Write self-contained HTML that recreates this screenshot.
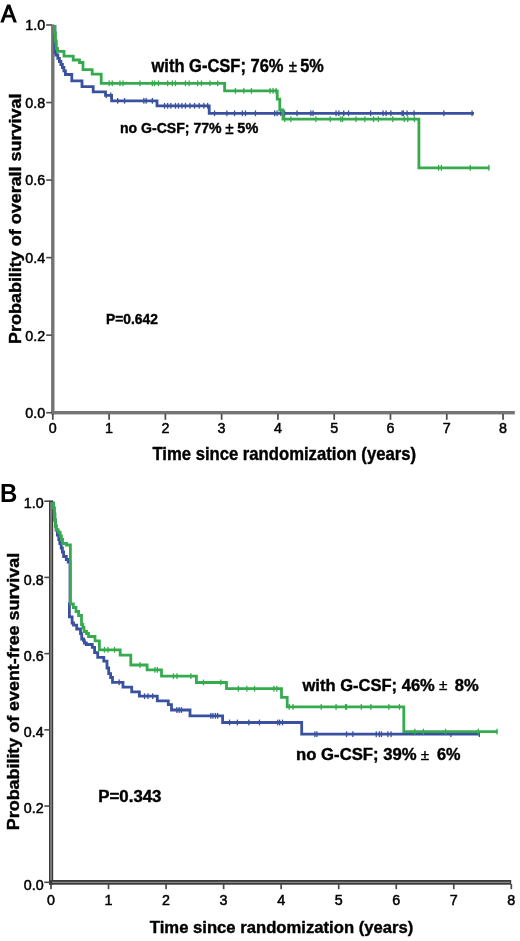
<!DOCTYPE html>
<html><head><meta charset="utf-8"><style>
html,body{margin:0;padding:0;background:#fff;width:520px;height:941px;overflow:hidden}
svg{display:block;filter:blur(0.35px)}
text{font-family:"Liberation Sans",sans-serif;fill:#000;white-space:pre}
.tl{font-size:14.3px;font-weight:normal;stroke:#000;stroke-width:0.5px}
.lb{font-weight:bold;stroke:#000;stroke-width:0.4px}
.pl{font-size:24.5px;font-weight:bold}
.pm{font-weight:normal}
</style></head><body>
<svg xml:space="preserve" width="520" height="941" viewBox="0 0 520 941">
<rect x="51.1" y="24.4" width="3.4" height="390" fill="#747474"/><rect x="51.1" y="411.0" width="463.7" height="3.4" fill="#747474"/><rect x="46.2" y="24.20" width="5.6" height="1.6" fill="#4a4a4a"/><text x="45.2" y="30.3" text-anchor="end" class="tl">1.0</text><rect x="46.2" y="101.74" width="5.6" height="1.6" fill="#4a4a4a"/><text x="45.2" y="107.8" text-anchor="end" class="tl">0.8</text><rect x="46.2" y="179.28" width="5.6" height="1.6" fill="#4a4a4a"/><text x="45.2" y="185.4" text-anchor="end" class="tl">0.6</text><rect x="46.2" y="256.82" width="5.6" height="1.6" fill="#4a4a4a"/><text x="45.2" y="262.9" text-anchor="end" class="tl">0.4</text><rect x="46.2" y="334.36" width="5.6" height="1.6" fill="#4a4a4a"/><text x="45.2" y="340.5" text-anchor="end" class="tl">0.2</text><rect x="46.2" y="411.90" width="5.6" height="1.6" fill="#4a4a4a"/><text x="45.2" y="418.0" text-anchor="end" class="tl">0.0</text><rect x="51.95" y="414" width="1.7" height="5.8" fill="#4a4a4a"/><text x="52.8" y="433.4" text-anchor="middle" class="tl">0</text><rect x="108.23" y="414" width="1.7" height="5.8" fill="#4a4a4a"/><text x="109.1" y="433.4" text-anchor="middle" class="tl">1</text><rect x="164.51" y="414" width="1.7" height="5.8" fill="#4a4a4a"/><text x="165.4" y="433.4" text-anchor="middle" class="tl">2</text><rect x="220.79" y="414" width="1.7" height="5.8" fill="#4a4a4a"/><text x="221.6" y="433.4" text-anchor="middle" class="tl">3</text><rect x="277.07" y="414" width="1.7" height="5.8" fill="#4a4a4a"/><text x="277.9" y="433.4" text-anchor="middle" class="tl">4</text><rect x="333.35" y="414" width="1.7" height="5.8" fill="#4a4a4a"/><text x="334.2" y="433.4" text-anchor="middle" class="tl">5</text><rect x="389.63" y="414" width="1.7" height="5.8" fill="#4a4a4a"/><text x="390.5" y="433.4" text-anchor="middle" class="tl">6</text><rect x="445.91" y="414" width="1.7" height="5.8" fill="#4a4a4a"/><text x="446.8" y="433.4" text-anchor="middle" class="tl">7</text><rect x="502.19" y="414" width="1.7" height="5.8" fill="#4a4a4a"/><text x="503.0" y="433.4" text-anchor="middle" class="tl">8</text><path d="M55.0 25 V52.8 H56 V55 H57.8 V58.3 H59.4 V61.5 H60.9 V64.5 H62.4 V67.5 H63.9 V70.8 H65.4 V74.5 H71.8 V80.8 H82 V86.7 H93.2 V91.8 H105.5 V95.3 H111.6 V100.8 H157 V105.8 H209.2 V113.3 H474" fill="none" stroke="#3a519f" stroke-width="2.8"/><rect x="105.5" y="92.4" width="1.3" height="5.8" fill="#3a519f"/><rect x="110.1" y="92.4" width="1.3" height="5.8" fill="#3a519f"/><rect x="117.0" y="97.9" width="1.3" height="5.8" fill="#3a519f"/><rect x="123.9" y="97.9" width="1.3" height="5.8" fill="#3a519f"/><rect x="143.2" y="97.9" width="1.3" height="5.8" fill="#3a519f"/><rect x="145.5" y="97.9" width="1.3" height="5.8" fill="#3a519f"/><rect x="151.7" y="97.9" width="1.3" height="5.8" fill="#3a519f"/><rect x="163.9" y="102.9" width="1.3" height="5.8" fill="#3a519f"/><rect x="167.0" y="102.9" width="1.3" height="5.8" fill="#3a519f"/><rect x="170.2" y="102.9" width="1.3" height="5.8" fill="#3a519f"/><rect x="174.8" y="102.9" width="1.3" height="5.8" fill="#3a519f"/><rect x="177.8" y="102.9" width="1.3" height="5.8" fill="#3a519f"/><rect x="181.3" y="102.9" width="1.3" height="5.8" fill="#3a519f"/><rect x="184.8" y="102.9" width="1.3" height="5.8" fill="#3a519f"/><rect x="189.3" y="102.9" width="1.3" height="5.8" fill="#3a519f"/><rect x="193.9" y="102.9" width="1.3" height="5.8" fill="#3a519f"/><rect x="198.5" y="102.9" width="1.3" height="5.8" fill="#3a519f"/><rect x="203.2" y="102.9" width="1.3" height="5.8" fill="#3a519f"/><rect x="207.0" y="102.9" width="1.3" height="5.8" fill="#3a519f"/><rect x="213.9" y="110.4" width="1.3" height="5.8" fill="#3a519f"/><rect x="226.2" y="110.4" width="1.3" height="5.8" fill="#3a519f"/><rect x="233.9" y="110.4" width="1.3" height="5.8" fill="#3a519f"/><rect x="241.7" y="110.4" width="1.3" height="5.8" fill="#3a519f"/><rect x="244.8" y="110.4" width="1.3" height="5.8" fill="#3a519f"/><rect x="254.8" y="110.4" width="1.3" height="5.8" fill="#3a519f"/><rect x="274.0" y="110.4" width="1.3" height="5.8" fill="#3a519f"/><rect x="276.4" y="110.4" width="1.3" height="5.8" fill="#3a519f"/><rect x="280.2" y="110.4" width="1.3" height="5.8" fill="#3a519f"/><rect x="284.0" y="110.4" width="1.3" height="5.8" fill="#3a519f"/><rect x="296.4" y="110.4" width="1.3" height="5.8" fill="#3a519f"/><rect x="310.2" y="110.4" width="1.3" height="5.8" fill="#3a519f"/><rect x="312.4" y="110.4" width="1.3" height="5.8" fill="#3a519f"/><rect x="335.4" y="110.4" width="1.3" height="5.8" fill="#3a519f"/><rect x="338.2" y="110.4" width="1.3" height="5.8" fill="#3a519f"/><rect x="343.1" y="110.4" width="1.3" height="5.8" fill="#3a519f"/><rect x="347.9" y="110.4" width="1.3" height="5.8" fill="#3a519f"/><rect x="370.0" y="110.4" width="1.3" height="5.8" fill="#3a519f"/><rect x="382.4" y="110.4" width="1.3" height="5.8" fill="#3a519f"/><rect x="385.4" y="110.4" width="1.3" height="5.8" fill="#3a519f"/><rect x="390.2" y="110.4" width="1.3" height="5.8" fill="#3a519f"/><rect x="402.7" y="110.4" width="1.3" height="5.8" fill="#3a519f"/><rect x="406.4" y="110.4" width="1.3" height="5.8" fill="#3a519f"/><rect x="401.4" y="110.4" width="1.3" height="5.8" fill="#3a519f"/><rect x="413.4" y="110.4" width="1.3" height="5.8" fill="#3a519f"/><rect x="443.2" y="110.4" width="1.3" height="5.8" fill="#3a519f"/><rect x="471.4" y="110.4" width="1.3" height="5.8" fill="#3a519f"/><path d="M54.6 25 V33 H55.4 V41 H56.3 V48.5 H57.5 V51.3 H64 V56.1 H73.2 V60 H79.5 V62.5 H83 V69.6 H92.2 V74.2 H101.2 V83.3 H224.6 V90.8 H277.2 V99.2 H279.8 V110 H283 V119.2 H418.9 V167.8 H489.5" fill="none" stroke="#36ab4e" stroke-width="2.8"/><rect x="108.5" y="80.4" width="1.3" height="5.8" fill="#36ab4e"/><rect x="111.6" y="80.4" width="1.3" height="5.8" fill="#36ab4e"/><rect x="119.3" y="80.4" width="1.3" height="5.8" fill="#36ab4e"/><rect x="122.3" y="80.4" width="1.3" height="5.8" fill="#36ab4e"/><rect x="139.3" y="80.4" width="1.3" height="5.8" fill="#36ab4e"/><rect x="151.7" y="80.4" width="1.3" height="5.8" fill="#36ab4e"/><rect x="153.9" y="80.4" width="1.3" height="5.8" fill="#36ab4e"/><rect x="157.8" y="80.4" width="1.3" height="5.8" fill="#36ab4e"/><rect x="167.0" y="80.4" width="1.3" height="5.8" fill="#36ab4e"/><rect x="171.7" y="80.4" width="1.3" height="5.8" fill="#36ab4e"/><rect x="174.8" y="80.4" width="1.3" height="5.8" fill="#36ab4e"/><rect x="184.8" y="80.4" width="1.3" height="5.8" fill="#36ab4e"/><rect x="188.5" y="80.4" width="1.3" height="5.8" fill="#36ab4e"/><rect x="197.0" y="80.4" width="1.3" height="5.8" fill="#36ab4e"/><rect x="200.8" y="80.4" width="1.3" height="5.8" fill="#36ab4e"/><rect x="209.3" y="80.4" width="1.3" height="5.8" fill="#36ab4e"/><rect x="217.0" y="80.4" width="1.3" height="5.8" fill="#36ab4e"/><rect x="234.8" y="87.9" width="1.3" height="5.8" fill="#36ab4e"/><rect x="243.2" y="87.9" width="1.3" height="5.8" fill="#36ab4e"/><rect x="250.8" y="87.9" width="1.3" height="5.8" fill="#36ab4e"/><rect x="269.4" y="87.9" width="1.3" height="5.8" fill="#36ab4e"/><rect x="272.4" y="87.9" width="1.3" height="5.8" fill="#36ab4e"/><rect x="275.4" y="87.9" width="1.3" height="5.8" fill="#36ab4e"/><rect x="284.0" y="116.3" width="1.3" height="5.8" fill="#36ab4e"/><rect x="290.2" y="116.3" width="1.3" height="5.8" fill="#36ab4e"/><rect x="315.2" y="116.3" width="1.3" height="5.8" fill="#36ab4e"/><rect x="329.6" y="116.3" width="1.3" height="5.8" fill="#36ab4e"/><rect x="340.2" y="116.3" width="1.3" height="5.8" fill="#36ab4e"/><rect x="341.9" y="116.3" width="1.3" height="5.8" fill="#36ab4e"/><rect x="355.4" y="116.3" width="1.3" height="5.8" fill="#36ab4e"/><rect x="364.2" y="116.3" width="1.3" height="5.8" fill="#36ab4e"/><rect x="372.9" y="116.3" width="1.3" height="5.8" fill="#36ab4e"/><rect x="377.7" y="116.3" width="1.3" height="5.8" fill="#36ab4e"/><rect x="392.1" y="116.3" width="1.3" height="5.8" fill="#36ab4e"/><rect x="403.6" y="116.3" width="1.3" height="5.8" fill="#36ab4e"/><rect x="407.1" y="116.3" width="1.3" height="5.8" fill="#36ab4e"/><rect x="413.8" y="116.3" width="1.3" height="5.8" fill="#36ab4e"/><rect x="437.9" y="164.9" width="1.3" height="5.8" fill="#36ab4e"/><rect x="440.7" y="164.9" width="1.3" height="5.8" fill="#36ab4e"/><rect x="469.6" y="164.9" width="1.3" height="5.8" fill="#36ab4e"/><rect x="488.2" y="164.9" width="1.3" height="5.8" fill="#36ab4e"/><text x="0.9" y="21.9" class="pl" style="font-weight:normal;font-size:24.6px;stroke:#000;stroke-width:1.1px" textLength="15.2" lengthAdjust="spacingAndGlyphs">A</text><text x="151.50" y="72.30" class="lb" textLength="132.01" lengthAdjust="spacingAndGlyphs" style="font-weight:bold;font-size:17.60px;">with G-CSF; 76%</text><text x="288.75" y="72.30" class="lb" textLength="8.18" lengthAdjust="spacingAndGlyphs" style="font-weight:normal;font-size:16.40px;">±</text><text x="300.21" y="72.30" class="lb" textLength="23.50" lengthAdjust="spacingAndGlyphs" style="font-weight:bold;font-size:17.60px;">5%</text><text x="119.91" y="133.30" class="lb" textLength="101.75" lengthAdjust="spacingAndGlyphs" style="font-weight:bold;font-size:14.90px;">no G-CSF; 77%</text><text x="225.34" y="133.60" class="lb" textLength="8.40" lengthAdjust="spacingAndGlyphs" style="font-weight:normal;font-size:16.40px;">±</text><text x="237.37" y="133.30" class="lb" textLength="20.90" lengthAdjust="spacingAndGlyphs" style="font-weight:bold;font-size:14.90px;">5%</text><text x="106.03" y="323.50" class="lb" textLength="51.87" lengthAdjust="spacingAndGlyphs" style="font-weight:bold;font-size:14.30px;">P=0.642</text><text x="152.43" y="459.60" class="lb" textLength="263.60" lengthAdjust="spacingAndGlyphs" style="font-weight:bold;font-size:17.70px;">Time since randomization (years)</text><text transform="translate(20.50,343.96) rotate(-90)" x="0" y="0" class="lb" textLength="250.40" lengthAdjust="spacingAndGlyphs" style="font-weight:bold;font-size:16.70px;">Probability of overall survival</text>
<rect x="49.0" y="500.4" width="4.2" height="384.3" fill="#3a3a3a"/><rect x="50.4" y="502" width="1.3" height="380" fill="#9a9a9a"/><rect x="49.0" y="880.0" width="462.2" height="4.7" fill="#3a3a3a"/><rect x="52" y="881.8" width="458" height="1.0" fill="#9a9a9a"/><rect x="44.3" y="500.40" width="5.5" height="1.6" fill="#4a4a4a"/><text x="43.7" y="508.4" text-anchor="end" class="tl">1.0</text><rect x="44.3" y="576.62" width="5.5" height="1.6" fill="#4a4a4a"/><text x="43.7" y="584.6" text-anchor="end" class="tl">0.8</text><rect x="44.3" y="652.84" width="5.5" height="1.6" fill="#4a4a4a"/><text x="43.7" y="660.8" text-anchor="end" class="tl">0.6</text><rect x="44.3" y="729.06" width="5.5" height="1.6" fill="#4a4a4a"/><text x="43.7" y="737.1" text-anchor="end" class="tl">0.4</text><rect x="44.3" y="805.28" width="5.5" height="1.6" fill="#4a4a4a"/><text x="43.7" y="813.3" text-anchor="end" class="tl">0.2</text><rect x="44.3" y="881.50" width="5.5" height="1.6" fill="#4a4a4a"/><text x="43.7" y="889.5" text-anchor="end" class="tl">0.0</text><rect x="50.15" y="884" width="1.7" height="5.2" fill="#4a4a4a"/><text x="51.0" y="904.6" text-anchor="middle" class="tl">0</text><rect x="107.69" y="884" width="1.7" height="5.2" fill="#4a4a4a"/><text x="108.5" y="904.6" text-anchor="middle" class="tl">1</text><rect x="165.23" y="884" width="1.7" height="5.2" fill="#4a4a4a"/><text x="166.1" y="904.6" text-anchor="middle" class="tl">2</text><rect x="222.77" y="884" width="1.7" height="5.2" fill="#4a4a4a"/><text x="223.6" y="904.6" text-anchor="middle" class="tl">3</text><rect x="280.31" y="884" width="1.7" height="5.2" fill="#4a4a4a"/><text x="281.2" y="904.6" text-anchor="middle" class="tl">4</text><rect x="337.85" y="884" width="1.7" height="5.2" fill="#4a4a4a"/><text x="338.7" y="904.6" text-anchor="middle" class="tl">5</text><rect x="395.39" y="884" width="1.7" height="5.2" fill="#4a4a4a"/><text x="396.2" y="904.6" text-anchor="middle" class="tl">6</text><rect x="452.93" y="884" width="1.7" height="5.2" fill="#4a4a4a"/><text x="453.8" y="904.6" text-anchor="middle" class="tl">7</text><rect x="510.47" y="884" width="1.7" height="5.2" fill="#4a4a4a"/><text x="511.3" y="904.6" text-anchor="middle" class="tl">8</text><path d="M53.6 501.8 V508 H54.2 V514 H54.8 V520 H55.4 V526 H56.2 V530 H57.4 V535 H58.8 V539.5 H59.8 V543.5 H61.2 V548 H62.4 V552 H63.6 V556.5 H66.3 V559.5 H68.2 V562 H70.0 V604 H69.4 V616.8 H72.1 V623 H73.5 V625.2 H76.7 V629 H80.5 V633.7 H81.7 V639 H83.6 V640.6 H84.4 V643 H86.3 V644.5 H92.3 V647.3 H94.6 V652.7 H97.7 V657.3 H103.8 V661.2 H107 V668 H108.7 V673.7 H110.6 V677.5 H112.5 V682.3 H123 V687.1 H131.7 V691.9 H139.4 V696.2 H157.3 V700.8 H168.3 V704.6 H171.5 V710 H190 V715.8 H222.6 V722.5 H301.7 V734.2 H479.8" fill="none" stroke="#3a519f" stroke-width="2.8"/><rect x="118.5" y="679.4" width="1.3" height="5.8" fill="#3a519f"/><rect x="143.9" y="693.3" width="1.3" height="5.8" fill="#3a519f"/><rect x="147.3" y="693.3" width="1.3" height="5.8" fill="#3a519f"/><rect x="152.0" y="693.3" width="1.3" height="5.8" fill="#3a519f"/><rect x="176.2" y="707.1" width="1.3" height="5.8" fill="#3a519f"/><rect x="178.5" y="707.1" width="1.3" height="5.8" fill="#3a519f"/><rect x="180.8" y="707.1" width="1.3" height="5.8" fill="#3a519f"/><rect x="210.2" y="712.9" width="1.3" height="5.8" fill="#3a519f"/><rect x="212.3" y="712.9" width="1.3" height="5.8" fill="#3a519f"/><rect x="214.8" y="712.9" width="1.3" height="5.8" fill="#3a519f"/><rect x="217.0" y="712.9" width="1.3" height="5.8" fill="#3a519f"/><rect x="228.9" y="719.6" width="1.3" height="5.8" fill="#3a519f"/><rect x="236.7" y="719.6" width="1.3" height="5.8" fill="#3a519f"/><rect x="248.2" y="719.6" width="1.3" height="5.8" fill="#3a519f"/><rect x="258.8" y="719.6" width="1.3" height="5.8" fill="#3a519f"/><rect x="277.1" y="719.6" width="1.3" height="5.8" fill="#3a519f"/><rect x="279.0" y="719.6" width="1.3" height="5.8" fill="#3a519f"/><rect x="281.9" y="719.6" width="1.3" height="5.8" fill="#3a519f"/><rect x="314.2" y="731.3" width="1.3" height="5.8" fill="#3a519f"/><rect x="316.2" y="731.3" width="1.3" height="5.8" fill="#3a519f"/><rect x="345.9" y="731.3" width="1.3" height="5.8" fill="#3a519f"/><rect x="352.2" y="731.3" width="1.3" height="5.8" fill="#3a519f"/><rect x="375.6" y="731.3" width="1.3" height="5.8" fill="#3a519f"/><rect x="378.7" y="731.3" width="1.3" height="5.8" fill="#3a519f"/><rect x="380.8" y="731.3" width="1.3" height="5.8" fill="#3a519f"/><rect x="387.2" y="731.3" width="1.3" height="5.8" fill="#3a519f"/><rect x="390.4" y="731.3" width="1.3" height="5.8" fill="#3a519f"/><rect x="450.2" y="731.3" width="1.3" height="5.8" fill="#3a519f"/><rect x="478.7" y="731.3" width="1.3" height="5.8" fill="#3a519f"/><path d="M53.6 501.8 V508 H54.2 V514 H54.8 V520 H55.4 V526 H56.2 V529.8 H58.2 V532.2 H60.2 V536 H61.4 V539.5 H62.6 V543.5 H66.5 V545 H70.4 V603.9 H73.4 V607.5 H76 V611.5 H78.6 V615.5 H81.5 V624.5 H82.8 V627.5 H84 V631.5 H86.5 V633.5 H88.5 V636.5 H95 V640.8 H99.4 V649.8 H120.2 V655.2 H130.8 V665 H147.1 V669.8 H161.5 V676.2 H196.4 V682.5 H226.5 V688.7 H281.5 V697.3 H287.2 V706.9 H403.8 V731.6 H497.3" fill="none" stroke="#36ab4e" stroke-width="2.8"/><rect x="103.8" y="646.9" width="1.3" height="5.8" fill="#36ab4e"/><rect x="107.3" y="646.9" width="1.3" height="5.8" fill="#36ab4e"/><rect x="113.9" y="646.9" width="1.3" height="5.8" fill="#36ab4e"/><rect x="139.3" y="662.1" width="1.3" height="5.8" fill="#36ab4e"/><rect x="154.3" y="666.9" width="1.3" height="5.8" fill="#36ab4e"/><rect x="156.8" y="666.9" width="1.3" height="5.8" fill="#36ab4e"/><rect x="172.8" y="673.3" width="1.3" height="5.8" fill="#36ab4e"/><rect x="176.3" y="673.3" width="1.3" height="5.8" fill="#36ab4e"/><rect x="190.2" y="673.3" width="1.3" height="5.8" fill="#36ab4e"/><rect x="202.8" y="679.6" width="1.3" height="5.8" fill="#36ab4e"/><rect x="220.2" y="679.6" width="1.3" height="5.8" fill="#36ab4e"/><rect x="237.7" y="685.8" width="1.3" height="5.8" fill="#36ab4e"/><rect x="246.2" y="685.8" width="1.3" height="5.8" fill="#36ab4e"/><rect x="253.9" y="685.8" width="1.3" height="5.8" fill="#36ab4e"/><rect x="273.2" y="685.8" width="1.3" height="5.8" fill="#36ab4e"/><rect x="276.1" y="685.8" width="1.3" height="5.8" fill="#36ab4e"/><rect x="288.6" y="704.0" width="1.3" height="5.8" fill="#36ab4e"/><rect x="292.4" y="704.0" width="1.3" height="5.8" fill="#36ab4e"/><rect x="320.6" y="704.0" width="1.3" height="5.8" fill="#36ab4e"/><rect x="335.4" y="704.0" width="1.3" height="5.8" fill="#36ab4e"/><rect x="344.9" y="704.0" width="1.3" height="5.8" fill="#36ab4e"/><rect x="345.9" y="704.0" width="1.3" height="5.8" fill="#36ab4e"/><rect x="360.7" y="704.0" width="1.3" height="5.8" fill="#36ab4e"/><rect x="370.2" y="704.0" width="1.3" height="5.8" fill="#36ab4e"/><rect x="388.2" y="704.0" width="1.3" height="5.8" fill="#36ab4e"/><rect x="398.8" y="704.0" width="1.3" height="5.8" fill="#36ab4e"/><rect x="414.2" y="728.7" width="1.3" height="5.8" fill="#36ab4e"/><rect x="422.7" y="728.7" width="1.3" height="5.8" fill="#36ab4e"/><rect x="444.9" y="728.7" width="1.3" height="5.8" fill="#36ab4e"/><rect x="477.7" y="728.7" width="1.3" height="5.8" fill="#36ab4e"/><rect x="496.4" y="728.7" width="1.3" height="5.8" fill="#36ab4e"/><text x="-0.1" y="501.7" class="pl" style="font-size:25.3px" textLength="17.3" lengthAdjust="spacingAndGlyphs">B</text><text x="302.50" y="690.50" class="lb" textLength="132.31" lengthAdjust="spacingAndGlyphs" style="font-weight:bold;font-size:16.10px;">with G-CSF; 46%</text><text x="439.04" y="690.20" class="lb" textLength="8.40" lengthAdjust="spacingAndGlyphs" style="font-weight:normal;font-size:15.50px;">±</text><text x="454.70" y="690.50" class="lb" textLength="23.92" lengthAdjust="spacingAndGlyphs" style="font-weight:bold;font-size:16.10px;">8%</text><text x="296.13" y="760.10" class="lb" textLength="120.41" lengthAdjust="spacingAndGlyphs" style="font-weight:bold;font-size:15.60px;">no G-CSF; 39%</text><text x="420.74" y="759.90" class="lb" textLength="8.40" lengthAdjust="spacingAndGlyphs" style="font-weight:normal;font-size:15.50px;">±</text><text x="437.05" y="760.10" class="lb" textLength="23.56" lengthAdjust="spacingAndGlyphs" style="font-weight:bold;font-size:15.60px;">6%</text><text x="98.32" y="801.60" class="lb" textLength="63.14" lengthAdjust="spacingAndGlyphs" style="font-weight:bold;font-size:15.60px;">P=0.343</text><text x="149.83" y="932.70" class="lb" textLength="263.50" lengthAdjust="spacingAndGlyphs" style="font-weight:bold;font-size:16.80px;">Time since randomization (years)</text><text transform="translate(18.70,830.15) rotate(-90)" x="0" y="0" class="lb" textLength="277.29" lengthAdjust="spacingAndGlyphs" style="font-weight:bold;font-size:16.00px;">Probability of event-free survival</text>
</svg>
</body></html>
